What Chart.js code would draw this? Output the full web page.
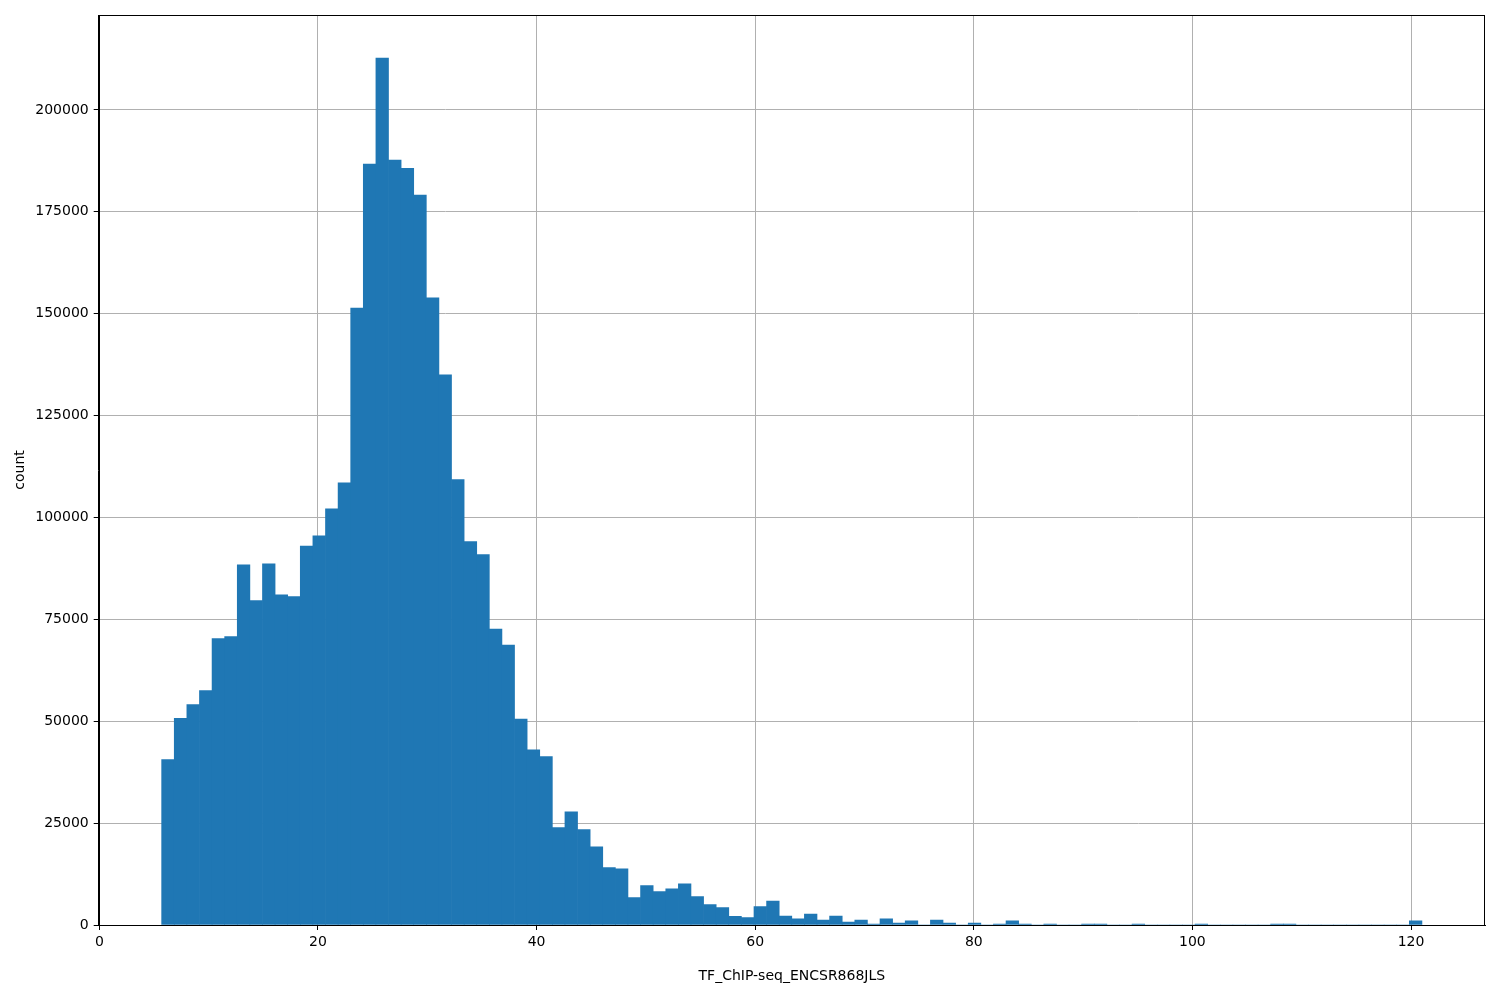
<!DOCTYPE html>
<html>
<head>
<meta charset="utf-8">
<title>TF_ChIP-seq_ENCSR868JLS</title>
<script src="https://cdn.jsdelivr.net/npm/chart.js@4/dist/chart.umd.min.js"></script>
<style>
  body { margin: 0; background: #fff; }
  canvas { display: block; }
</style>
</head>
<body>
<canvas id="hist" width="1500" height="1000"></canvas>
<script>
// histogram bins: 100 equal bins
const binStart = 5.70;
const binWidth = 1.153;
const counts = [
  40600, 50700, 54100, 57500, 70300, 70800, 88400, 79600, 88600, 81000,
  80600, 93000, 95500, 102100, 108500, 151400, 186700, 212700, 187700, 185700,
  179100, 153900, 135000, 109300, 94100, 90900, 72600, 68700, 50500, 43000,
  41300, 23900, 27800, 23400, 19200, 14100, 13800, 6700, 9700, 8200,
  8900, 10100, 7000, 5000, 4300, 2100, 1800, 4500, 5900, 2200,
  1500, 2700, 1200, 2200, 700, 1200, 250, 1500, 500, 1000,
  0, 1200, 500, 0, 500, 0, 250, 1000, 250, 0,
  250, 0, 0, 250, 250, 0, 0, 250, 0, 0,
  0, 0, 250, 0, 0, 0, 0, 0, 250, 250,
  0, 0, 0, 0, 0, 0, 0, 0, 0, 1000
];
const xTicks = [0, 20, 40, 60, 80, 100, 120];
const yTicks = [0, 25000, 50000, 75000, 100000, 125000, 150000, 175000, 200000];
const xLabel = 'TF_ChIP-seq_ENCSR868JLS';
const yLabel = 'count';

const points = counts.map((c, i) => ({ x: binStart + binWidth * (i + 0.5), y: c }));

// matplotlib style box around the plot area
const frame = {
  id: 'frame',
  afterDraw(chart) {
    const a = chart.chartArea, ctx = chart.ctx;
    ctx.save();
    ctx.strokeStyle = '#000';
    ctx.lineWidth = 1;
    ctx.strokeRect(Math.round(a.left) + 0.5, Math.round(a.top) + 0.5,
      Math.round(a.right - a.left) - 1, Math.round(a.bottom - a.top));
    ctx.restore();
  }
};

const font = { family: 'DejaVu Sans', size: 14 };

new Chart(document.getElementById('hist'), {
  type: 'bar',
  data: {
    datasets: [{
      data: points,
      backgroundColor: '#1f77b4',
      borderWidth: 0,
      barPercentage: 1,
      categoryPercentage: 1
    }]
  },
  options: {
    responsive: false,
    animation: false,
    layout: { padding: { left: 0, top: 15, right: 15, bottom: 0 } },
    plugins: { legend: { display: false }, tooltip: { enabled: false } },
    scales: {
      x: {
        type: 'linear',
        offset: false,
        min: -0.06,
        max: 126.77,
        z: 1,
        afterBuildTicks: s => { s.ticks = xTicks.map(v => ({ value: v })); },
        afterFit: s => { s.height = 75; },
        grid: { color: '#b0b0b0', lineWidth: 1, tickColor: '#000', tickLength: 5, offset: false },
        border: { color: '#000', width: 1 },
        ticks: { color: '#000', font, padding: 4, maxRotation: 0, callback: v => String(v) },
        title: { display: true, text: xLabel, color: '#000', font, padding: { top: 0, bottom: 15 } }
      },
      y: {
        min: 0,
        max: 223300,
        z: 1,
        afterBuildTicks: s => { s.ticks = yTicks.map(v => ({ value: v })); },
        afterFit: s => { s.width = 98.7; },
        grid: { color: '#b0b0b0', lineWidth: 1, tickColor: '#000', tickLength: 5 },
        border: { color: '#000', width: 1 },
        ticks: { color: '#000', font, padding: 5, callback: v => String(v) },
        title: { display: true, text: yLabel, color: '#000', font, padding: { top: 12, bottom: 0 } }
      }
    }
  },
  plugins: [frame]
});
</script>
</body>
</html>
